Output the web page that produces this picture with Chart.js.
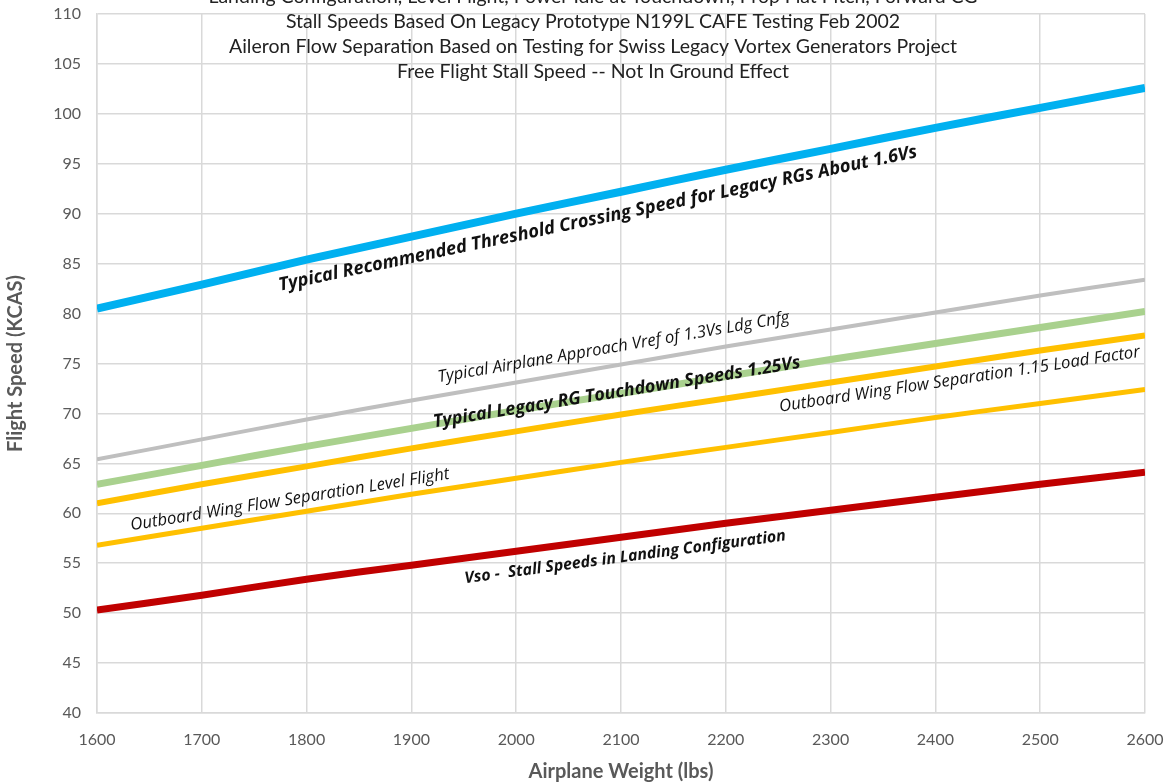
<!DOCTYPE html>
<html><head><meta charset="utf-8">
<script src="https://cdn.jsdelivr.net/npm/chart.js@4/dist/chart.umd.min.js"></script>
<style>html,body{margin:0;padding:0;background:#fff}#wrap{width:1165px;height:782px}</style>
</head><body><div id="wrap"><canvas id="c" width="1165" height="782"></canvas></div>
<script>
const weights = [1600,1700,1800,1900,2000,2100,2200,2300,2400,2500,2600];
const thresholdSpeed = [80.5,82.9,85.4,87.7,90.0,92.2,94.4,96.5,98.6,100.6,102.6];
const vrefSpeed = [65.4,67.4,69.4,71.3,73.1,74.9,76.7,78.4,80.1,81.8,83.4];
const touchdownSpeed = [62.9,64.8,66.7,68.5,70.3,72.0,73.7,75.4,77.0,78.6,80.2];
const sep115Speed = [61.0,62.9,64.7,66.5,68.2,69.9,71.5,73.1,74.7,76.3,77.8];
const sepLevelSpeed = [56.8,58.5,60.2,61.9,63.5,65.1,66.6,68.1,69.6,71.0,72.4];
const vsoSpeed = [50.3,51.8,53.4,54.8,56.2,57.6,59.0,60.3,61.6,62.9,64.1];
const titleLines = [
  "Landing Configuration, Level Flight, Power Idle at Touchdown, Prop Flat Pitch, Forward CG",
  "Stall Speeds Based On Legacy Prototype N199L CAFE Testing Feb 2002",
  "Aileron Flow Separation Based on Testing for Swiss Legacy Vortex Generators Project",
  "Free Flight Stall Speed -- Not In Ground Effect"
];
const lineLabels = [
  {text:"Typical Recommended Threshold Crossing Speed for Legacy RGs About 1.6Vs", series:0, x:2078, y:89.5, bold:true, len:652},
  {text:"Typical Airplane Approach Vref of 1.3Vs Ldg Cnfg", series:1, x:2093, y:76.6, bold:false, len:357},
  {text:"Typical Legacy RG Touchdown Speeds 1.25Vs", series:2, x:2096, y:72.1, bold:true, len:372},
  {text:"Outboard Wing Flow Separation 1.15 Load Factor", series:3, x:2423, y:73.4, bold:false, len:365},
  {text:"Outboard Wing Flow Separation Level Flight", series:4, x:1784, y:61.35, bold:false, len:323},
  {text:"Vso -  Stall Speeds in Landing Configuration", series:5, x:2104, y:55.6, bold:true, len:324}
];
const FONT = "Lato, 'Open Sans', sans-serif";
const LFONT = "'Open Sans', Lato, sans-serif";
const series = [thresholdSpeed, vrefSpeed, touchdownSpeed, sep115Speed, sepLevelSpeed, vsoSpeed];
const colors = ['#00B0F0','#BFBFBF','#A9D18E','#FFC000','#FFC000','#C00000'];
const widths = [8,4,7,6,5,7];
const names = ['Threshold 1.6Vs','Vref 1.3Vs','Touchdown 1.25Vs','Flow Sep 1.15 g','Flow Sep Level','Vso'];

const overlay = {
  id:'overlay',
  afterDatasetsDraw(chart){
    const {ctx, chartArea, scales:{x,y}} = chart;
    ctx.save();
    ctx.fillStyle = '#222';
    ctx.textAlign = 'center';
    ctx.textBaseline = 'middle';
    ctx.font = "19.5px " + FONT;
    const cx = 593;
    const ys = [-3, 22, 47, 72];
    titleLines.forEach((t,i)=>ctx.fillText(t, cx, ys[i]));
    lineLabels.forEach(l=>{
      const d = series[l.series];
      let i = weights.findIndex(w=>w>l.x); if(i<1) i=1;
      const dx = x.getPixelForValue(weights[i]) - x.getPixelForValue(weights[i-1]);
      const dy = y.getPixelForValue(d[i]) - y.getPixelForValue(d[i-1]);
      const ang = Math.atan2(dy, dx);
      const style = "italic " + (l.bold?"bold ":"");
      ctx.font = style + "20px " + LFONT;
      const w = ctx.measureText(l.text).width;
      const size = 20 * l.len / w;
      ctx.save();
      ctx.translate(x.getPixelForValue(l.x), y.getPixelForValue(l.y));
      ctx.rotate(ang);
      ctx.font = style + size.toFixed(2) + "px " + LFONT;
      ctx.fillStyle = '#111';
      ctx.fillText(l.text, 0, 0);
      ctx.restore();
    });
    ctx.restore();
  }
};

new Chart(document.getElementById('c'), {
  type:'line',
  data:{
    labels: weights,
    datasets: series.map((d,i)=>({
      label:names[i], data:d.map((v,j)=>({x:weights[j], y:v})),
      borderColor:colors[i], backgroundColor:colors[i], borderWidth:widths[i],
      pointRadius:0, tension:0.3, fill:false
    }))
  },
  options:{
    responsive:false, animation:false,
    layout:{padding:{top:14, right:20, left:0, bottom:0}},
    plugins:{legend:{display:false}, tooltip:{enabled:false}, title:{display:false}},
    scales:{
      x:{type:'linear', min:1600, max:2600,
        ticks:{stepSize:100, color:'#595959', font:{family:FONT, size:16}, padding:17, callback:v=>String(v)},
        grid:{color:'#D9D9D9', lineWidth:1.5, drawTicks:false},
        border:{color:'#D9D9D9', width:1.5},
        title:{display:true, text:'Airplane Weight (lbs)', color:'#595959', font:{family:FONT, size:20, weight:'bold'}, padding:{top:14, bottom:-2}},
        afterFit(s){ s.height = 69; s.paddingLeft = 0; s.paddingRight = 0; }
      },
      y:{min:40, max:110,
        ticks:{stepSize:5, color:'#595959', font:{family:FONT, size:16}, padding:16},
        grid:{color:'#D9D9D9', lineWidth:1.5, drawTicks:false},
        border:{color:'#D9D9D9', width:1.5},
        title:{display:true, text:'Flight Speed (KCAS)', color:'#595959', font:{family:FONT, size:20, weight:'bold'}, padding:{bottom:4}},
        afterFit(s){ s.width = 97; s.paddingTop = 0; s.paddingBottom = 0; }
      }
    }
  },
  plugins:[overlay]
});
</script></body></html>
